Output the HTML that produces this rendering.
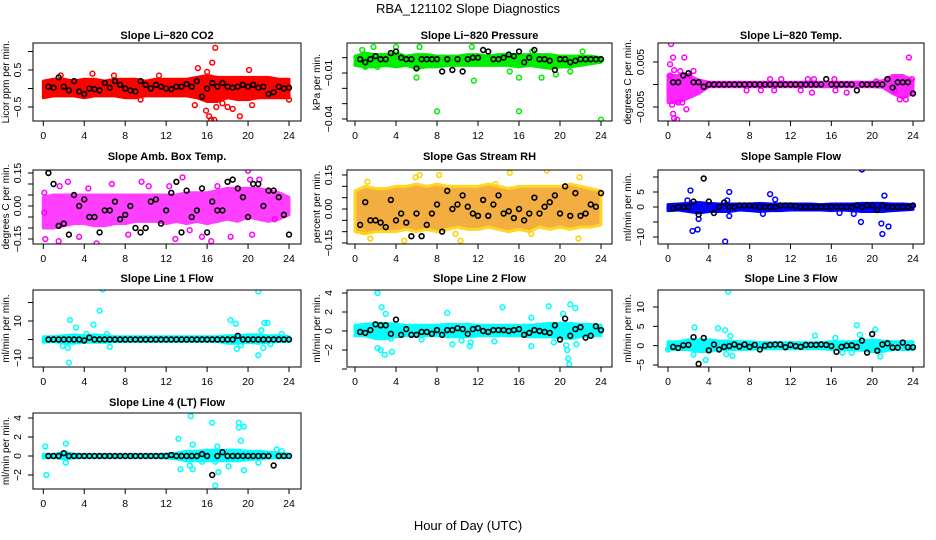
<!DOCTYPE html>
<html><head><meta charset="utf-8"><style>
body{margin:0;background:#fff}
svg{display:block;font-family:"Liberation Sans",sans-serif}
</style></head><body>
<svg id="c" width="936" height="540" viewBox="0 0 936 540">
<rect width="936" height="540" fill="#fff"/>
<text x="468" y="13" text-anchor="middle" font-size="13">RBA_121102  Slope Diagnostics</text>
<text x="468" y="530" text-anchor="middle" font-size="13">Hour of Day (UTC)</text>
</svg>
<script>
// ---- data ----
const xTicks=[0,4,8,12,16,20,24];
// CO2
const co2Lo=[-0.25,-0.2,-0.2,-0.2,-0.25,-0.2,-0.2,-0.2,-0.25,-0.25,-0.2,-0.2,-0.2,-0.2,-0.2,-0.25,-0.35,-0.35,-0.25,-0.3,-0.3,-0.25,-0.25,-0.25,-0.25];
const co2Hi=[0.2,0.25,0.25,0.2,0.25,0.25,0.2,0.25,0.25,0.25,0.2,0.25,0.25,0.25,0.25,0.3,0.35,0.3,0.3,0.3,0.3,0.3,0.3,0.25,0.25];
const co2Out=[[16.8,1.1],[16.5,0.7],[16.2,-0.75],[16.4,-0.85],[16.7,-0.85],[19.2,-0.75],[18.5,-0.55],[20.1,0.5],[15.1,0.55],[16,0.45],[15.9,-0.6],[17.5,-0.4],[20.4,-0.45],[14.8,-0.45],[16.3,0.3],[9.5,-0.3],[24,-0.3],[4.8,0.4],[1.7,0.35],[6.9,0.35],[11.3,0.35],[18,-0.5],[16.9,-0.5]];
const co2Blk=[0.05,0.02,0.3,0.05,-0.05,0.2,-0.08,-0.15,0.0,-0.02,-0.05,0.15,0.02,0.2,0.1,0.0,-0.05,-0.08,0.2,0.1,0.0,0.1,0.05,0.0,-0.02,0.05,0.05,0.12,0.05,0.2,-0.22,0.0,0.15,0.05,0.15,0.05,0.02,0.05,0.1,0.05,0.1,0.02,0.05,-0.15,-0.1,0.05,0.0,0.02];
// Pressure
const prLo=[-0.005,-0.006,-0.006,-0.005,-0.006,-0.005,-0.007,-0.006,-0.006,-0.005,-0.005,-0.005,-0.005,-0.005,-0.005,-0.005,-0.006,-0.005,-0.006,-0.007,-0.006,-0.006,-0.005,-0.004,-0.003];
const prHi=[0.001,0.003,0.002,0.002,0.003,0.001,0.002,0.002,0.001,0.001,0.001,0.002,0.002,0.001,0.002,0.002,0.002,0.002,0.002,0.002,0.001,0.001,0.001,0.001,0.0];
const prOut=[[8,-0.035],[16,-0.035],[24,-0.0405],[16,-0.013],[6,-0.013],[11.6,-0.015],[18.2,-0.013],[1,-0.006],[2.2,-0.006],[0.7,0.005],[1.8,0.007],[4,0.007],[6.3,0.007],[11.4,0.007],[15.1,-0.009],[19.6,-0.011],[21,-0.009],[22.2,0.004],[17.3,0.004]];
const prBlk=[-0.001,-0.003,-0.001,0.001,-0.001,-0.001,0.003,0.004,0.0,-0.001,-0.001,-0.007,-0.001,-0.001,-0.001,-0.001,-0.009,-0.001,-0.008,-0.001,-0.009,-0.001,0.0,0.0,0.005,0.004,-0.001,-0.001,0.0,0.002,0.001,0.004,-0.003,0.0,0.005,-0.001,-0.001,-0.002,-0.008,-0.001,-0.001,-0.003,-0.002,-0.001,-0.001,-0.001,-0.001,-0.001];
// Li-820 temp
const tpLo=[-0.004,-0.004,-0.003,-0.002,-0.0005,-0.0005,-0.0005,-0.0005,-0.0005,-0.0005,-0.0005,-0.0005,-0.0005,-0.0005,-0.0005,-0.0005,-0.0005,-0.0005,-0.0005,-0.0005,-0.0005,-0.0006,-0.002,-0.003,-0.002];
const tpHi=[0.002,0.002,0.002,0.001,0.0005,0.0005,0.0005,0.0005,0.0005,0.0005,0.0005,0.0005,0.0005,0.0005,0.0005,0.0005,0.0005,0.0005,0.0005,0.0005,0.0005,0.0008,0.002,0.002,0.001];
const tpOut=[[0.3,0.009],[0.5,0.006],[0.2,0.0045],[1.6,0.006],[0.5,-0.0065],[0.6,-0.0075],[0.9,-0.0078],[0.4,-0.0045],[1.8,-0.0055],[1,-0.004],[1.4,-0.004],[0.2,0.002],[23.6,0.006],[22.7,-0.0033],[23.3,-0.0033],[2.5,0.003],[2.1,0.002],[0.6,0.0032],[1.2,0.003],[10,0.0012],[11.1,0.0012],[13.7,0.0012],[14.3,0.0012],[16.3,0.0012],[7.7,-0.0013],[9.1,-0.0013],[10.4,-0.0013],[13,-0.0013],[14.1,-0.0018],[16.4,-0.0013],[17.5,-0.0018],[20.4,0.0007],[22.2,-0.0013],[23.9,0.0012]];
const tpBlk=[0.0005,0.0005,0.002,0.0025,0.0005,0.0005,-0.0005,0,0,0,0,0,0,0,0,0,0,0,0,0,0,0,0,0,0,0,0,0,0,0,0.0012,0,0,0,0,0,-0.0013,0,0,0,0,0,0.0012,-0.0007,0.0005,0.0005,0.0005,-0.002];
// Amb box temp
const abLo=[-0.1,-0.1,-0.09,-0.08,-0.08,-0.09,-0.09,-0.08,-0.08,-0.07,-0.07,-0.07,-0.08,-0.07,-0.08,-0.07,-0.08,-0.07,-0.06,-0.07,-0.05,-0.06,-0.07,-0.06,-0.04];
const abHi=[0.04,0.05,0.05,0.05,0.05,0.05,0.05,0.05,0.05,0.05,0.05,0.05,0.05,0.05,0.06,0.06,0.06,0.07,0.08,0.08,0.08,0.08,0.07,0.06,0.04];
const abOut=[[1.5,-0.16],[1.6,0.09],[0.2,-0.15],[9.6,0.11],[13.6,0.13],[20.0,0.16],[20.2,0.12],[21.1,0.12],[16.4,-0.16],[18.3,-0.14],[5.2,-0.17],[3.5,-0.14],[8.3,-0.13],[12.9,-0.15],[15.5,-0.14],[20.4,-0.13],[0.1,0.06],[12.3,0.09],[10.3,0.09],[2.4,0.11],[22.6,-0.06],[0.1,-0.03],[6.7,0.1],[4.4,0.08],[14.3,-0.11],[17.0,0.09]];
const abBlk=[0.15,0.1,-0.09,-0.08,-0.13,0.05,0.0,0.03,-0.05,-0.05,-0.12,-0.02,-0.02,0.02,-0.06,-0.04,0.0,-0.1,-0.12,-0.1,0.02,0.03,-0.08,-0.02,0.06,0.11,-0.12,0.07,-0.05,-0.02,0.08,-0.12,0.02,-0.02,-0.02,0.11,0.12,0.08,0.04,-0.05,0.1,0.1,0.0,0.07,0.07,0.04,-0.04,-0.13];
// Gas stream RH
const rhLo=[-0.1,-0.11,-0.1,-0.1,-0.1,-0.09,-0.1,-0.09,-0.1,-0.09,-0.08,-0.09,-0.09,-0.08,-0.09,-0.1,-0.09,-0.1,-0.08,-0.09,-0.08,-0.09,-0.08,-0.08,-0.07];
const rhHi=[0.08,0.1,0.09,0.09,0.1,0.1,0.11,0.1,0.11,0.1,0.1,0.1,0.1,0.11,0.1,0.09,0.1,0.1,0.1,0.1,0.1,0.11,0.1,0.09,0.08];
const rhOut=[[5.9,0.14],[6.3,0.15],[8.2,0.15],[15.1,0.16],[18.7,0.17],[21.9,0.14],[4.8,-0.14],[10.3,-0.14],[1.5,-0.13],[21.8,-0.13],[9.8,-0.11],[0.8,-0.1],[17.2,-0.11],[13.7,0.11],[1.2,0.12]];
const rhBlk=[-0.07,0.03,-0.05,-0.05,-0.06,-0.08,0.04,-0.05,-0.02,-0.06,-0.12,-0.02,-0.12,-0.07,-0.02,0.02,-0.1,0.08,0.0,0.02,0.06,0.01,-0.02,-0.03,0.04,-0.03,0.02,0.06,-0.02,-0.01,-0.04,0.0,-0.05,-0.02,0.05,-0.02,0.01,0.03,0.06,-0.02,0.1,-0.03,0.07,-0.03,-0.02,0.02,0.01,0.07];
// Sample flow
const sfLo=[-1.2,-1.0,-1.5,-2.0,-1.5,-1.5,-1.5,-1.0,-1.2,-1.5,-1.2,-1.2,-1.0,-1.0,-1.0,-1.0,-1.2,-1.0,-1.2,-1.5,-1.5,-1.5,-1.2,-1.0,-0.8];
const sfHi=[0.8,1.0,1.2,1.5,1.2,1.0,1.0,1.0,1.0,1.2,1.0,1.0,1.0,1.0,1.0,0.8,1.0,1.0,1.0,1.2,1.2,1.2,1.0,1.0,0.8];
const sfOut=[[2.2,5.5],[6,5],[10,4.3],[19,12.5],[21.2,3.8],[2.4,-8],[2.9,-7.5],[5.6,-11.5],[18.9,-5],[20.9,-5.5],[21,-9],[21.6,-6.5],[6,-3],[3,-4],[1.9,2.2],[10.5,2.5],[5.8,2.2],[9.3,-2.3],[16.8,-2],[18.2,-2.3]];
const sfBlk=[-0.5,0,0,0,1.8,-2.5,9.5,1.8,-2,0,1.5,0,0,0.5,0.5,0.5,0.3,0,0,0,0,0.5,0.5,0.5,0.3,0,0,0,0,0,0,0,0,0,0,0,0.5,0,0.5,0.5,-1,0.5,0,0,0,0,0,0.5];
// Line 1 flow
const l1Lo=[-1.5,-1,-2,-2,-1.5,-1.5,-1.5,-1,-1,-1,-1,-1,-1,-1,-1,-1,-1,-1,-2,-2,-1.5,-2,-1.5,-1,-1];
const l1Hi=[1.5,1.5,2,2.5,2,2.5,2,1.5,1.5,1.5,1.5,1.5,1.5,1.5,1.5,1.5,1.5,1.5,2,2,2.5,2.5,2,2,1.5];
const l1Out=[[5.8,27],[5.5,15.5],[2.6,10.5],[4.9,8],[3.2,6.5],[2.5,-12.5],[2.4,-4.5],[1.9,-3.5],[6.5,-4],[18.3,10.5],[18.8,8.5],[21,26],[21.6,9],[21.9,9],[21.3,5],[21,-8.5],[18.9,-5],[21.5,-4.5],[19.3,-3],[23.3,3],[22.2,-2.5],[4.2,3],[6.2,3]];
const l1Blk=[0,0,0,0,0,0,0,-0.5,1,0,0,0,0,0,0,0,0,0,0,0,0,0,0,0,0,0,0,0,0,0,0,0,0,0,0,0,0,2,0,0,0,0,0,0,0,0,0,0];
// Line 2 flow
const l2Lo=[-0.5,-0.5,-0.8,-0.8,-0.6,-0.5,-0.5,-0.5,-0.5,-0.6,-0.6,-0.6,-0.5,-0.5,-0.5,-0.5,-0.5,-0.6,-0.6,-0.6,-0.7,-0.8,-0.6,-0.5,-0.5];
const l2Hi=[0.6,0.7,0.8,0.8,0.7,0.6,0.6,0.6,0.6,0.7,0.7,0.7,0.6,0.6,0.6,0.6,0.6,0.6,0.7,0.8,0.8,0.8,0.7,0.7,0.6];
const l2Out=[[2.2,4],[2.6,2.5],[3,1.8],[9,1.9],[14.4,2.5],[18.9,2.6],[21,2.8],[21.5,2.4],[20.3,1.8],[17.2,1.4],[2.2,-1.8],[2.5,-2],[2.9,-2.5],[3.6,-2.2],[3.5,-0.8],[9.5,-1.4],[11.3,-1.2],[11.2,-1.6],[17.2,-1.6],[20.9,-3.5],[20.8,-2.9],[20.6,-1.5],[19.4,-1.2],[20.7,-2],[21.6,-1.4],[13.6,-1.1],[6.5,-0.9],[10.4,-1]];
const l2Blk=[-0.1,-0.2,0.1,0.7,0.6,0.6,-0.3,1.2,-0.4,0.2,-0.4,-0.4,-0.1,-0.1,-0.3,0.1,-0.4,0.1,0.1,0.3,0.2,-0.3,0.2,0.3,0,-0.1,0.1,0.1,0.1,0,0.1,0.2,-0.4,-0.2,0.1,0,-0.1,-0.2,0.6,-0.9,1.3,-0.5,0.2,0.4,-0.7,-0.5,0.5,0.1];
// Line 3 flow
const l3Lo=[-1,-1,-1,-1.5,-1.5,-1,-1,-1,-1,-0.8,-0.8,-0.8,-0.8,-0.8,-0.8,-0.8,-1,-1,-1,-1.2,-1.5,-1.5,-1,-1,-1];
const l3Hi=[1,1,1.5,1.5,1.5,1.2,1.2,1,1,0.8,0.8,0.8,0.8,0.8,0.8,0.8,1,1,1,1.2,1.5,1.2,1,1,1];
const l3Out=[[5.9,14],[2.6,4.7],[4.9,4.5],[5.6,4],[6.1,2.5],[14.4,2.6],[18.5,5.3],[18.8,2.8],[20.3,4.2],[2.5,-2.3],[3.7,-3.7],[5.7,-2.2],[6.3,-2.6],[17.1,-1.8],[20.8,-2.8],[16.4,2.0],[18,-1.8],[0,-1]];
const l3Blk=[-0.3,-0.6,0.1,0.2,2.2,-4.7,2,-1.2,0.3,-1,-0.3,-0.1,0.3,-0.2,0.3,-0.3,0.2,-1,0,0.2,0.3,0.3,-0.4,0.2,-0.1,-0.3,0.2,0.2,0.2,0.3,0.2,-0.1,-1.6,-0.3,0,0.1,-0.3,1.3,-1.8,3,-1.3,0.3,0.6,-0.5,-0.5,0.8,-0.4,-0.4];
// Line 4 flow
const l4Lo=[-0.2,-0.15,-0.3,-0.2,-0.15,-0.15,-0.15,-0.15,-0.15,-0.15,-0.15,-0.15,-0.2,-0.3,-0.5,-0.5,-0.5,-0.5,-0.5,-0.5,-0.4,-0.3,-0.2,-0.2,-0.15];
const l4Hi=[0.2,0.15,0.4,0.2,0.15,0.15,0.15,0.15,0.15,0.15,0.15,0.15,0.2,0.3,0.5,0.5,0.6,0.6,0.6,0.6,0.5,0.5,0.4,0.3,0.2];
const l4Out=[[0.2,1],[0.3,-2],[2.2,1.3],[2.2,-0.7],[14.4,4.2],[16.5,3.5],[19.1,3.5],[19.1,3],[19.6,3.1],[19.3,1.6],[13.2,1.8],[14.6,1.2],[17,1],[13.4,-1.4],[14.6,-1.4],[17.1,-1.7],[16.8,-3.1],[18.1,-1.1],[19.6,-1.5],[21,-0.7],[22.8,0.7],[23.3,0.5],[14.3,-1],[15.5,-0.6],[16.8,-0.6]];
const l4Blk=[0,0,0,0.3,0,0,0,0,0,0,0,0,0,0,0,0,0,0,0,0,0,0,0,0,0.1,0,0,0,0,0,0.2,0,-2,0,0.4,0,0,0,0,0,0,0,0,0,-1,0,0,0];

// ---- layout ----
const cols=[{x0:43.3,x24:289,bl:33,br:301,yl:9,tl:21},{x0:355,x24:601,bl:347,br:612,yl:320,tl:332},{x0:668,x24:913,bl:658,br:924,yl:631,tl:644}];
const rows=[{t:43,b:121,title:35},{t:170,b:244,title:156},{t:290,b:367,title:278},{t:413,b:489,title:402}];
const panels=[
 {name:'co2',title:'Slope Li\u2212820 CO2',ylab:'Licor ppm per min.',c:0,r:0,v1:0.5,y1:70,v2:-0.5,y2:107,ticks:[-0.5,0,0.5,1],labs:[[-0.5,'\u22120.5'],[0.5,'0.5']],col:'#ff0000',fill:'#ff0000',op:1,lo:co2Lo,hi:co2Hi,out:co2Out,blk:co2Blk},
 {name:'pressure',title:'Slope Li\u2212820 Pressure',ylab:'kPa per min.',c:1,r:0,v1:-0.01,y1:73,v2:-0.04,y2:119,ticks:[0,-0.01,-0.02,-0.03,-0.04],labs:[[-0.01,'\u22120.01'],[-0.04,'\u22120.04']],col:'#00ee00',fill:'#00ee00',op:1,lo:prLo,hi:prHi,out:prOut,blk:prBlk},
 {name:'li820-temp',title:'Slope Li\u2212820 Temp.',ylab:'degrees C per min.',c:2,r:0,v1:0.005,y1:62,v2:-0.005,y2:107,ticks:[-0.005,0,0.005],labs:[[-0.005,'\u22120.005'],[0.005,'0.005']],col:'#ff00ff',fill:'#ff00ff',op:0.85,lo:tpLo,hi:tpHi,out:tpOut,blk:tpBlk},
 {name:'amb-box-temp',title:'Slope Amb. Box Temp.',ylab:'degrees C per min.',c:0,r:1,v1:0.15,y1:173,v2:-0.15,y2:239,ticks:[-0.15,-0.1,-0.05,0,0.05,0.1,0.15],labs:[[-0.15,'\u22120.15'],[0,'0.00'],[0.15,'0.15']],col:'#ff00ff',fill:'#ff00ff',op:0.75,lo:abLo,hi:abHi,out:abOut,blk:abBlk},
 {name:'gas-stream-rh',title:'Slope Gas Stream RH',ylab:'percent per min.',c:1,r:1,v1:0.15,y1:175,v2:-0.15,y2:243,ticks:[-0.15,-0.1,-0.05,0,0.05,0.1,0.15],labs:[[-0.15,'\u22120.15'],[0,'0.00'],[0.15,'0.15']],col:'#ffd000',fill:'#f0a020',op:0.85,lo:rhLo,hi:rhHi,out:rhOut,blk:rhBlk},
 {name:'sample-flow',title:'Slope Sample Flow',ylab:'ml/min per min.',c:2,r:1,v1:5,y1:192,v2:0,y2:207,ticks:[-10,-5,0,5,10],labs:[[-10,'\u221210'],[0,'0'],[5,'5']],col:'#0000ff',fill:'#0000ff',op:1,lo:sfLo,hi:sfHi,out:sfOut,blk:sfBlk},
 {name:'line1-flow',title:'Slope Line 1 Flow',ylab:'ml/min per min.',c:0,r:2,v1:10,y1:321,v2:-10,y2:358,ticks:[-10,0,10,20],labs:[[-10,'\u221210'],[10,'10']],col:'#00ffff',fill:'#00ffff',op:1,lo:l1Lo,hi:l1Hi,out:l1Out,blk:l1Blk},
 {name:'line2-flow',title:'Slope Line 2 Flow',ylab:'ml/min per min.',c:1,r:2,v1:2,y1:312,v2:-2,y2:350,ticks:[-4,-2,0,2,4],labs:[[-2,'\u22122'],[0,'0'],[2,'2'],[4,'4']],col:'#00ffff',fill:'#00ffff',op:1,lo:l2Lo,hi:l2Hi,out:l2Out,blk:l2Blk},
 {name:'line3-flow',title:'Slope Line 3 Flow',ylab:'ml/min per min.',c:2,r:2,v1:10,y1:307,v2:-5,y2:365,ticks:[-5,0,5,10],labs:[[-5,'\u22125'],[0,'0'],[5,'5'],[10,'10']],col:'#00ffff',fill:'#00ffff',op:1,lo:l3Lo,hi:l3Hi,out:l3Out,blk:l3Blk},
 {name:'line4-flow',title:'Slope Line 4 (LT) Flow',ylab:'ml/min per min.',c:0,r:3,v1:2,y1:437,v2:-2,y2:475,ticks:[-2,0,2,4],labs:[[-2,'\u22122'],[0,'0'],[2,'2'],[4,'4']],col:'#00ffff',fill:'#00ffff',op:1,lo:l4Lo,hi:l4Hi,out:l4Out,blk:l4Blk}
];
const NS='http://www.w3.org/2000/svg';
const svg=document.getElementById('c');
function mk(tag,attrs,parent){const e=document.createElementNS(NS,tag);for(const k in attrs)e.setAttribute(k,attrs[k]);(parent||svg).appendChild(e);return e;}
panels.forEach(p=>{
 const C=cols[p.c],R=rows[p.r];
 const xs=t=>C.x0+t/24*(C.x24-C.x0);
 const ys=v=>p.y1+(v-p.v1)*(p.y2-p.y1)/(p.v2-p.v1);
 const g=mk('g',{});
 
 
 const cid='clip-'+p.name;
 const cp=mk('clipPath',{id:cid},g);mk('rect',{x:C.bl,y:R.t,width:C.br-C.bl,height:R.b-R.t},cp);
 const pg=mk('g',{'clip-path':'url(#'+cid+')'},g);
 
 
 let pts=[];
 p.hi.forEach((v,i)=>pts.push(xs(i)+','+ys(v)));
 for(let i=p.lo.length-1;i>=0;i--)pts.push(xs(i)+','+ys(p.lo[i]));
 const band=mk('polygon',{points:pts.join(' '),fill:p.fill,stroke:p.col,'stroke-width':3,'stroke-linejoin':'round',opacity:p.op},pg);
 
 
 p.out.forEach(d=>{
  const c=mk('circle',{cx:xs(d[0]),cy:ys(d[1]),r:2.4,fill:'none',stroke:p.col,'stroke-width':1.5},pg);
  
  
 });
 p.blk.forEach((v,i)=>{
  const c=mk('circle',{cx:xs(0.5*(i+1)),cy:ys(v),r:2.4,fill:'none',stroke:'#000','stroke-width':1.6},pg);
  
  
 });
 const box=mk('rect',{x:C.bl,y:R.t,width:C.br-C.bl,height:R.b-R.t,fill:'none',stroke:'#000','stroke-width':1},g);
 
 
 const ti=mk('text',{x:(C.bl+C.br)/2,y:R.title+4,'text-anchor':'middle','font-size':11,'font-weight':'bold'},g);
 ti.textContent=p.title;
 
 
 xTicks.forEach(t=>{
  mk('line',{x1:xs(t),x2:xs(t),y1:R.b,y2:R.b+5,stroke:'#000'},g);
  const tx=mk('text',{x:xs(t),y:R.b+18,'text-anchor':'middle','font-size':10.5},g);
  tx.textContent=t;
  
  
 });
 p.ticks.forEach(v=>{mk('line',{x1:C.bl,x2:C.bl-5,y1:ys(v),y2:ys(v),stroke:'#000'},g);});
 p.labs.forEach(l=>{
  const y=ys(l[0]);
  const tx=mk('text',{x:C.tl,y:y,'text-anchor':'middle','font-size':10.5,transform:'rotate(-90 '+C.tl+' '+y+')'},g);
  tx.textContent=l[1];
  
  
 });
 const cy=(R.t+R.b)/2;
 const yl=mk('text',{x:C.yl,y:cy,'text-anchor':'middle','font-size':10,transform:'rotate(-90 '+C.yl+' '+cy+')'},g);
 yl.textContent=p.ylab;
 
 
});
</script>
</body></html>
